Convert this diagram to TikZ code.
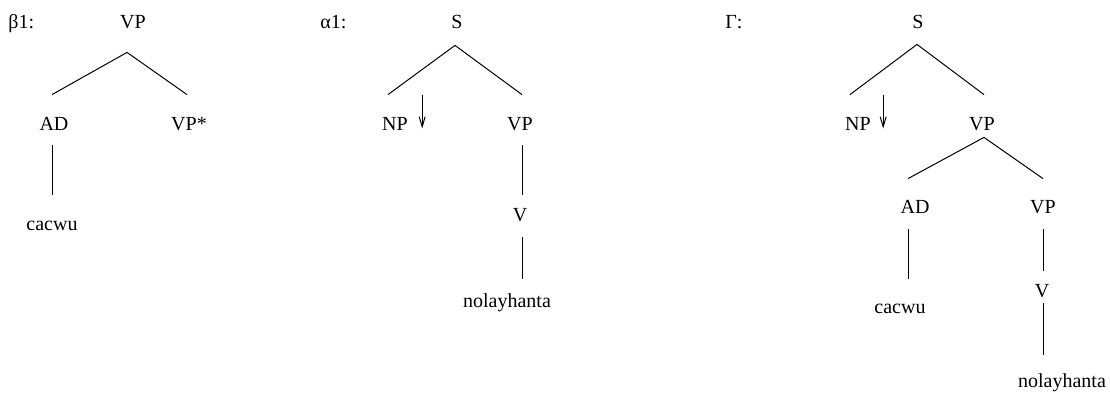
\documentclass[tikz,border=0pt]{standalone}
\usepackage{fontspec}
\setmainfont{Liberation Serif}
\usetikzlibrary{calc,arrows.meta}
\begin{document}
\begin{tikzpicture}[x=0.5pt,y=-0.5pt,
 main/.style={inner sep=0pt,anchor=base,text height=7pt,text depth=0pt,font=\fontsize{10}{12}\selectfont},
 tag/.style={main,anchor=base west},
 br/.style={line width=0.5pt},
 sub/.style={line width=0.5pt,-{Straight Barb[length=5pt,width=3pt]}}]
\useasboundingbox (0,0) rectangle (1110,392);
\node[tag] (b1tag) at (8,28) {β1:};
\node[main] (b1) at (133,28) {VP};
\node[main] (b1ad) at (54,130) {AD};
\node[main] (b1vp) at (189,130) {VP*};
\node[main] (b1cacwu) at (52,230) {cacwu};
\draw[br] ([shift={(-3pt,-12pt)}]b1.south) -- ([shift={(-1pt,10.5pt)}]b1ad.north);
\draw[br] ([shift={(-3pt,-12pt)}]b1.south) -- ([shift={(-1pt,10.5pt)}]b1vp.north);
\draw[br] ([shift={(-1pt,-7.5pt)}]b1ad.south) -- ([yshift=10.5pt]b1cacwu.north);
\node[tag] (a1tag) at (320,28) {α1:};
\node[main] (a1) at (457,28) {S};
\node[main] (a1np) at (395,130) {NP};
\node[main] (a1vp) at (520,130) {VP};
\node[main] (a1v) at (520,221) {V};
\node[main] (a1nol) at (507,307) {nolayhanta};
\draw[br] ([shift={(-1pt,-8.5pt)}]a1.south) -- ([shift={(-3.5pt,10.5pt)}]a1np.north);
\draw[br] ([shift={(-1pt,-8.5pt)}]a1.south) -- ([shift={(1pt,10.5pt)}]a1vp.north);
\draw[br] ([shift={(1pt,-7.5pt)}]a1vp.south) -- ([shift={(1pt,6pt)}]a1v.north);
\draw[br] ([shift={(1pt,-8pt)}]a1v.south) -- ($(a1nol.north -| a1v.south)+(1pt,7pt)$);
\draw[sub] ([shift={(7pt,10.5pt)}]a1np.north east) -- ([shift={(7pt,1pt)}]a1np.south east);
\node[tag] (gtag) at (725,28) {Γ:};
\node[main] (g) at (918,28) {S};
\node[main] (gnp) at (858,130) {NP};
\node[main] (gvp) at (982,130) {VP};
\node[main] (gad) at (915,213) {AD};
\node[main] (gvp2) at (1043,213) {VP};
\node[main] (gcacwu) at (900,313) {cacwu};
\node[main] (gv) at (1042,297) {V};
\node[main] (gnol) at (1062,387) {nolayhanta};
\draw[br] ([shift={(-0.5pt,-8pt)}]g.south) -- ([shift={(-4pt,10.5pt)}]gnp.north);
\draw[br] ([shift={(-0.5pt,-8pt)}]g.south) -- ([shift={(1pt,10.5pt)}]gvp.north);
\draw[br] ([shift={(1pt,-3.5pt)}]gvp.south) -- ([shift={(-3.5pt,10pt)}]gad.north);
\draw[br] ([shift={(1pt,-3.5pt)}]gvp.south) -- ([yshift=10pt]gvp2.north);
\draw[br] ([shift={(-3.5pt,-8pt)}]gad.south) -- ($(gcacwu.north -| gad.south)+(-3.5pt,10pt)$);
\draw[br] ([yshift=-8pt]gvp2.south) -- ([shift={(0.5pt,6pt)}]gv.north);
\draw[br] ([shift={(0.5pt,-3pt)}]gv.south) -- ($(gnol.north -| gv.south)+(0.5pt,9pt)$);
\draw[sub] ([shift={(6pt,10.5pt)}]gnp.north east) -- ([shift={(6pt,1pt)}]gnp.south east);
\end{tikzpicture}
\end{document}
